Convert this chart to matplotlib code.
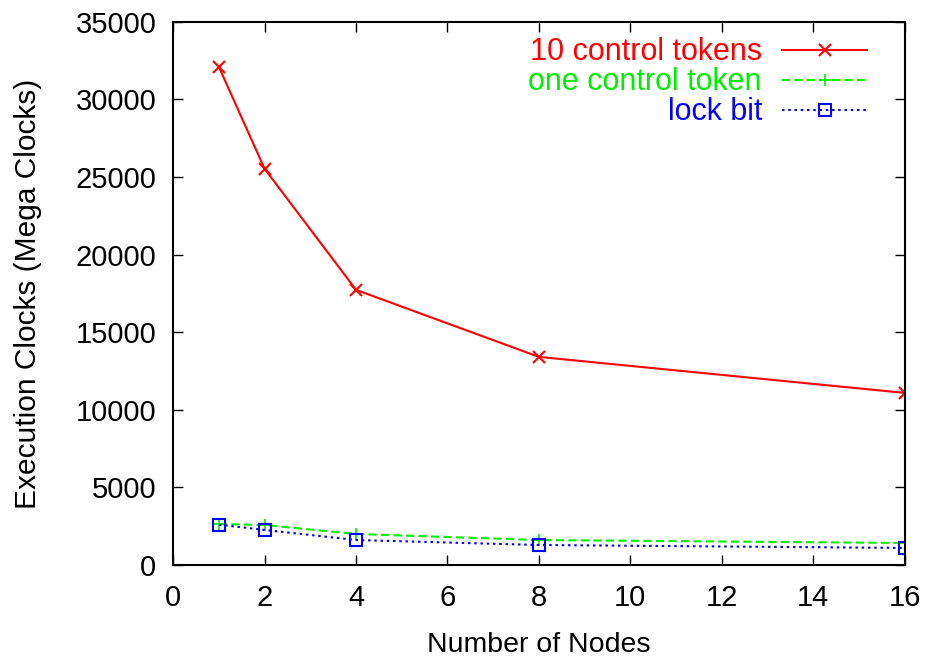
import matplotlib.pyplot as plt

plt.rcParams['font.family'] = ['Liberation Sans', 'DejaVu Sans']

nodes = [1, 2, 4, 8, 16]
ten_tokens = [32100, 25530, 17730, 13410, 11090]
one_token = [2640, 2580, 2000, 1610, 1420]
lock_bit = [2600, 2260, 1610, 1290, 1100]

fig = plt.figure(figsize=(9.26, 6.62), dpi=100)
ax = fig.add_axes([0.187, 0.1465, 0.790, 0.8205])

ax.plot(nodes, ten_tokens, color='#ff0000', lw=1.5, marker='x', ms=9, mew=1.5,
        label='10 control tokens')
ax.plot(nodes, one_token, color='#00ee00', lw=1.5, ls=(0, (4, 2)), marker='+',
        ms=9, mew=1.2, label='one control token')
ax.plot(nodes, lock_bit, color='#0000ff', lw=1.5, ls=(0, (1.2, 1.8)), marker='s',
        ms=8, mfc='none', mew=1.5, label='lock bit')

ax.set_xlim(0, 16)
ax.set_ylim(0, 35000)
ax.set_xticks(range(0, 17, 2))
ax.set_yticks(range(0, 35001, 5000))
ax.tick_params(direction='in', top=True, right=True, length=7, width=1,
               labelsize=21)
ax.tick_params(axis='x', pad=14)
ax.tick_params(axis='y', pad=12)
for s in ax.spines.values():
    s.set_linewidth(1.5)

ax.set_xlabel('Number of Nodes', fontsize=20.5, labelpad=14)
ax.set_ylabel('Execution Clocks (Mega Clocks)', fontsize=21.5, labelpad=24)

leg = ax.legend(loc='upper right', bbox_to_anchor=(0.974, 1.005), frameon=False,
                markerfirst=False, fontsize=22, labelcolor='linecolor',
                handlelength=2.8, handletextpad=0.65, labelspacing=0.0,
                borderaxespad=0.2)
for t in leg.get_texts():
    t.set_ha('right')

fig.savefig('out.png', dpi=100)
